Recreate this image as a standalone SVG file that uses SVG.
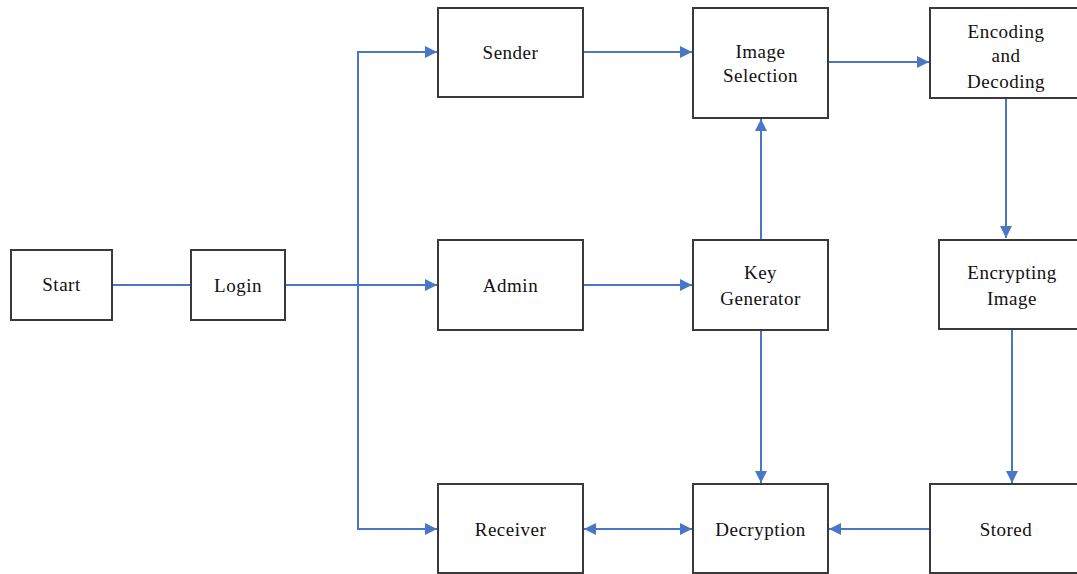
<svg xmlns="http://www.w3.org/2000/svg" width="1077" height="574" viewBox="0 0 1077 574" font-family="Liberation Serif, DejaVu Serif, serif">
<style>
.box{fill:#fff;stroke:#3a3a3a;stroke-width:2}
.t{font-size:19px;fill:#111;text-anchor:middle;letter-spacing:0.5px}
.c{fill:none;stroke:#4a76c8;stroke-width:2}
</style>
<defs>
<marker id="ah" viewBox="0 0 10 10" refX="10" refY="5" markerWidth="12" markerHeight="12" markerUnits="userSpaceOnUse" orient="auto-start-reverse">
<path d="M0,0 L10,5 L0,10 Z" fill="#4a76c8"/>
</marker>
</defs>
<rect width="1077" height="574" fill="#fff"/>
<g id="connectors">
<path class="c" d="M112,285 H191"/>
<path class="c" d="M285,285 H437" marker-end="url(#ah)"/>
<path class="c" d="M358,285 V52 H437" marker-end="url(#ah)"/>
<path class="c" d="M358,285 V529 H437" marker-end="url(#ah)"/>
<path class="c" d="M583,52 H692" marker-end="url(#ah)"/>
<path class="c" d="M583,285 H692" marker-end="url(#ah)"/>
<path class="c" d="M828,62 H929" marker-end="url(#ah)"/>
<path class="c" d="M761,240 V119" marker-end="url(#ah)"/>
<path class="c" d="M761,330 V483" marker-end="url(#ah)"/>
<path class="c" d="M1006,98 V238" marker-end="url(#ah)"/>
<path class="c" d="M1012,330 V483" marker-end="url(#ah)"/>
<path class="c" d="M930,529 H829" marker-end="url(#ah)"/>
<path class="c" d="M584,529 H692" marker-start="url(#ah)" marker-end="url(#ah)"/>
</g>
<g id="start"><rect class="box" x="11" y="250" width="101" height="70"/><text class="t" x="61.5" y="291">Start</text></g>
<g id="login"><rect class="box" x="191" y="250" width="94" height="70"/><text class="t" x="238" y="292">Login</text></g>
<g id="sender"><rect class="box" x="438" y="8" width="145" height="89"/><text class="t" x="510.5" y="59">Sender</text></g>
<g id="admin"><rect class="box" x="438" y="240" width="145" height="90"/><text class="t" x="510.5" y="292">Admin</text></g>
<g id="receiver"><rect class="box" x="438" y="484" width="145" height="89"/><text class="t" x="510.5" y="536">Receiver</text></g>
<g id="image-selection"><rect class="box" x="693" y="8" width="135" height="110"/><text class="t" x="760.5" y="58">Image</text><text class="t" x="760.5" y="82">Selection</text></g>
<g id="key-generator"><rect class="box" x="693" y="240" width="135" height="90"/><text class="t" x="760.5" y="279">Key</text><text class="t" x="760.5" y="305">Generator</text></g>
<g id="decryption"><rect class="box" x="693" y="484" width="135" height="89"/><text class="t" x="760.5" y="536">Decryption</text></g>
<g id="encoding"><rect class="box" x="930" y="8" width="150" height="90"/><text class="t" x="1006" y="38">Encoding</text><text class="t" x="1006" y="62">and</text><text class="t" x="1006" y="88">Decoding</text></g>
<g id="encrypting"><rect class="box" x="939" y="240" width="140" height="89"/><text class="t" x="1012" y="279">Encrypting</text><text class="t" x="1012" y="305">Image</text></g>
<g id="stored"><rect class="box" x="930" y="484" width="150" height="89"/><text class="t" x="1006" y="536">Stored</text></g>
</svg>
